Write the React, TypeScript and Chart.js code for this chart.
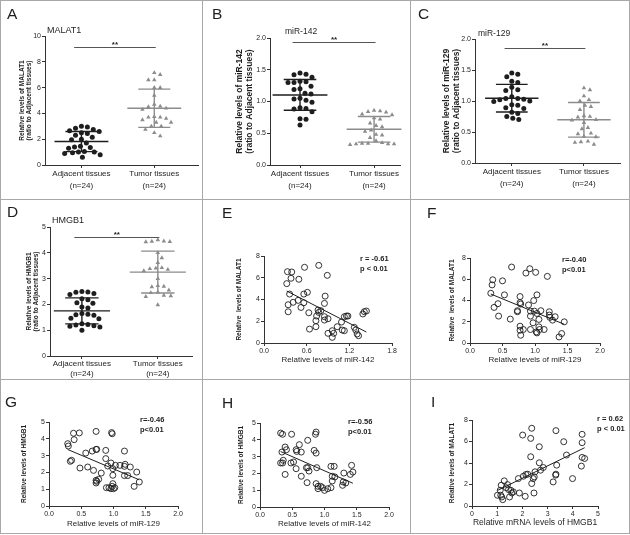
import React, { useEffect, useRef } from 'react';
import { Chart, registerables } from 'chart.js';

Chart.register(...registerables);

const FONT = '"Liberation Sans", Arial, Helvetica, sans-serif';
const INK = '#1e1e1e';
const AXIS = '#333333';
const TRI = '#8c8c8c';
const FRAME = '#a8a8a8';

// ---------------- data ----------------
const groupLabels = ['Adjacent tissues', 'Tumor tissues'];
const groupSizes = ['(n=24)', '(n=24)'];

// A: MALAT1
const malat1Adjacent = [3.0, 2.95, 2.85, 2.75, 2.65, 2.6, 2.5, 2.45, 2.3, 2.15, 2.0, 1.95, 1.7, 1.45, 1.4, 1.35, 1.3, 1.05, 1.0, 1.0, 0.95, 0.9, 0.8, 0.6];
const malat1Tumor = [7.15, 7.0, 6.6, 6.6, 6.0, 6.0, 5.4, 4.7, 4.55, 4.5, 4.4, 4.3, 3.75, 3.7, 3.7, 3.6, 3.5, 3.3, 3.3, 3.0, 3.0, 2.75, 2.5, 2.25];
// B: miR-142
const mir142Adjacent = [1.45, 1.43, 1.42, 1.38, 1.32, 1.31, 1.3, 1.3, 1.24, 1.2, 1.19, 1.13, 1.12, 1.05, 1.04, 1.02, 0.99, 0.9, 0.89, 0.88, 0.84, 0.73, 0.72, 0.63];
const mir142Tumor = [0.86, 0.85, 0.84, 0.83, 0.8, 0.79, 0.74, 0.72, 0.66, 0.62, 0.6, 0.55, 0.53, 0.48, 0.47, 0.43, 0.38, 0.35, 0.34, 0.34, 0.33, 0.33, 0.33, 0.32];
// C: miR-129
const mir129Adjacent = [1.45, 1.43, 1.39, 1.32, 1.3, 1.22, 1.18, 1.17, 1.07, 1.04, 1.04, 1.03, 1.02, 1.0, 0.99, 0.94, 0.93, 0.89, 0.88, 0.82, 0.8, 0.75, 0.72, 0.7];
const mir129Tumor = [1.21, 1.18, 1.08, 1.02, 1.0, 0.93, 0.91, 0.86, 0.76, 0.75, 0.74, 0.7, 0.69, 0.65, 0.57, 0.55, 0.48, 0.47, 0.43, 0.42, 0.35, 0.34, 0.33, 0.3];
// D: HMGB1
const hmgb1Adjacent = [2.5, 2.48, 2.47, 2.42, 2.38, 2.22, 2.18, 2.06, 2.04, 1.9, 1.86, 1.65, 1.62, 1.6, 1.58, 1.46, 1.44, 1.25, 1.22, 1.2, 1.17, 1.15, 1.12, 1.0];
const hmgb1Tumor = [4.5, 4.45, 4.44, 4.43, 4.42, 4.0, 3.8, 3.62, 3.42, 3.4, 3.38, 3.35, 3.3, 3.0, 2.72, 2.7, 2.68, 2.55, 2.47, 2.45, 2.35, 2.33, 2.3, 1.98];

// E: miR-142 vs MALAT1
const eMir142 = [0.33, 0.39, 0.32, 0.38, 0.57, 0.49, 0.77, 0.89, 0.36, 0.61, 0.56, 0.34, 0.41, 0.48, 0.52, 0.56, 0.34, 0.63, 0.76, 0.77, 0.80, 0.86, 0.85, 0.74, 0.73, 0.85, 0.90, 0.85, 0.64, 0.73, 0.90, 0.96, 0.98, 0.96, 1.03, 1.09, 1.10, 1.13, 1.13, 1.16, 1.18, 1.27, 1.29, 1.31, 1.33, 1.39, 1.41, 1.44];
const eMalat1 = [6.56, 6.53, 5.46, 5.95, 6.96, 5.86, 7.14, 6.22, 4.50, 4.66, 4.50, 3.52, 3.74, 3.92, 3.27, 3.70, 2.87, 2.78, 3.03, 2.81, 2.97, 4.31, 3.64, 2.48, 2.05, 2.11, 2.23, 2.42, 1.28, 1.50, 0.89, 1.13, 0.89, 0.52, 1.50, 1.93, 1.19, 1.13, 2.42, 2.48, 2.48, 1.44, 1.19, 0.83, 0.67, 2.67, 2.88, 2.94];
// F: miR-129 vs MALAT1
const fMir129 = [0.32, 0.35, 0.34, 0.37, 0.43, 0.44, 0.50, 0.53, 0.64, 0.62, 0.73, 0.73, 0.77, 0.77, 0.78, 0.77, 0.77, 0.78, 0.82, 0.86, 0.92, 1.01, 0.90, 0.93, 0.93, 0.98, 0.99, 0.97, 0.93, 1.02, 1.03, 1.03, 1.06, 1.03, 1.06, 1.07, 1.09, 1.14, 1.19, 1.22, 1.22, 1.23, 1.27, 1.31, 1.37, 1.41, 1.45];
const fMalat1 = [4.68, 5.95, 5.47, 3.35, 3.70, 2.53, 5.85, 4.53, 7.15, 2.25, 2.94, 3.04, 4.37, 3.80, 3.67, 1.58, 1.20, 0.73, 1.27, 6.58, 6.99, 6.65, 3.58, 3.00, 2.53, 3.99, 3.00, 1.90, 1.27, 1.04, 0.95, 4.53, 2.22, 2.78, 1.52, 1.27, 3.04, 1.27, 6.27, 2.94, 2.63, 2.41, 2.15, 2.47, 0.57, 0.89, 1.99];
// G: miR-129 vs HMGB1
const gMir129 = [0.29, 0.30, 0.33, 0.35, 0.38, 0.39, 0.47, 0.48, 0.57, 0.60, 0.67, 0.69, 0.73, 0.73, 0.74, 0.73, 0.74, 0.73, 0.77, 0.81, 0.88, 0.88, 0.91, 0.89, 0.93, 0.96, 0.97, 0.98, 0.98, 0.99, 0.96, 1.00, 0.99, 0.99, 1.02, 1.03, 1.10, 1.17, 1.17, 1.18, 1.17, 1.22, 1.26, 1.32, 1.36, 1.40];
const gHmgb1 = [3.71, 3.57, 2.66, 2.72, 4.33, 3.95, 4.35, 2.26, 3.15, 2.32, 3.27, 2.12, 4.44, 3.37, 3.37, 1.53, 1.47, 1.37, 1.59, 1.96, 2.82, 3.31, 2.38, 1.09, 1.09, 2.56, 4.37, 4.30, 1.17, 1.33, 1.03, 1.03, 2.22, 1.83, 1.09, 2.42, 2.42, 2.36, 3.27, 2.48, 1.81, 1.81, 2.32, 1.17, 2.02, 1.43];
// H: miR-142 vs HMGB1
const hMir142 = [0.32, 0.35, 0.49, 0.34, 0.35, 0.32, 0.36, 0.39, 0.41, 0.39, 0.48, 0.52, 0.56, 0.57, 0.56, 0.61, 0.64, 0.64, 0.74, 0.72, 0.74, 0.76, 0.73, 0.84, 0.87, 0.87, 0.86, 0.88, 0.87, 0.90, 0.90, 0.94, 0.97, 1.00, 1.05, 1.10, 1.10, 1.15, 1.12, 1.12, 1.16, 1.28, 1.29, 1.30, 1.33, 1.40, 1.42, 1.44];
const hHmgb1 = [4.40, 4.33, 4.33, 3.27, 2.62, 2.62, 2.78, 3.57, 3.41, 1.94, 2.62, 2.68, 3.41, 3.31, 2.28, 3.71, 3.27, 1.83, 3.97, 2.34, 2.34, 2.14, 1.45, 3.37, 3.21, 4.46, 4.33, 2.34, 1.39, 1.23, 1.09, 1.23, 1.15, 0.99, 1.09, 1.15, 2.42, 2.42, 1.83, 1.55, 1.79, 1.29, 1.49, 2.02, 1.43, 1.94, 2.48, 2.08];
// I: HMGB1 vs MALAT1
const iHmgb1 = [1.01, 1.12, 1.14, 1.16, 1.18, 1.22, 1.28, 1.36, 1.41, 1.45, 1.49, 1.54, 1.58, 1.64, 1.84, 1.88, 2.01, 2.04, 2.11, 2.14, 2.21, 2.33, 2.37, 2.33, 2.37, 2.43, 2.46, 2.47, 2.50, 2.67, 2.67, 2.72, 2.83, 3.22, 3.33, 3.33, 3.32, 3.36, 3.64, 3.75, 3.99, 4.37, 4.37, 4.34, 4.37, 4.47];
const iMalat1 = [1.00, 1.46, 1.00, 1.93, 0.84, 0.59, 2.34, 1.71, 1.99, 1.53, 0.84, 1.46, 1.21, 1.31, 2.55, 1.21, 6.60, 2.77, 0.90, 2.93, 2.96, 4.58, 7.23, 6.29, 2.09, 2.55, 1.21, 2.71, 3.18, 5.51, 4.02, 3.33, 3.58, 2.24, 7.01, 2.96, 2.87, 3.80, 5.98, 4.74, 2.55, 6.67, 5.89, 3.71, 4.52, 4.42];

const corrR = ['r = -0.61', 'r=-0.40', 'r=-0.46', 'r=-0.56', 'r = 0.62'];
const corrP = ['p < 0.01', 'p<0.01', 'p<0.01', 'p<0.01', 'p < 0.01'];
const sigLevel = [9.15, 1.94, 1.85, 4.6];
const sigMark = '**';

// ---------------- helpers ----------------
const mean = (a: number[]) => a.reduce((s, v) => s + v, 0) / a.length;
const sd = (a: number[]) => {
  const m = mean(a);
  return Math.sqrt(a.reduce((s, v) => s + (v - m) ** 2, 0) / (a.length - 1));
};
function linFit(xs: number[], ys: number[]) {
  const mx = mean(xs), my = mean(ys);
  let sxy = 0, sxx = 0;
  xs.forEach((x, i) => { sxy += (x - mx) * (ys[i] - my); sxx += (x - mx) ** 2; });
  const b = sxy / sxx;
  return { a: my - b * mx, b };
}
// beeswarm offsets (in x data units) so that markers do not overlap
function swarm(values: number[], pxX: number, pxY: number, d = 6.0): number[] {
  const placed: { x: number; y: number }[] = [];
  return values.map((v) => {
    const y = v * pxY;
    for (let k = 0; k < 80; k++) {
      const cand = k === 0 ? 0 : (k % 2 ? 1 : -1) * Math.ceil(k / 2) * 1.0;
      if (placed.every((p) => Math.hypot(p.x - cand, p.y - y) >= d)) {
        placed.push({ x: cand, y });
        return cand / pxX;
      }
    }
    return 0;
  });
}

type Box = [number, number, number, number]; // left, top, right, bottom (page px)

function valueAxis(min: number, max: number, step: number, dec: number) {
  return {
    type: 'linear' as const,
    min,
    max,
    ticks: {
      stepSize: step,
      callback: (v: any) => Number(v).toFixed(dec),
      font: { family: FONT, size: 7 },
      color: INK,
      padding: 1,
      maxRotation: 0,
      minRotation: 0,
      autoSkip: false,
    },
    grid: { display: true, drawOnChartArea: false, drawTicks: true, tickLength: 3, color: AXIS, lineWidth: 1 },
    border: { display: true, color: AXIS, width: 1 },
  };
}

function baseOptions(cell: Box, area: Box) {
  return {
    responsive: false,
    animation: false as const,
    events: [] as any[],
    layout: { padding: { left: 0, top: area[1] - cell[1], right: cell[2] - area[2], bottom: 0 } },
    plugins: { legend: { display: false }, tooltip: { enabled: false }, title: { display: false } },
  };
}

// ---------------- panel layout ----------------
type DotPanel = {
  cell: Box; area: Box; xr: [number, number]; ymax: number; ystep: number; ydec: number;
  adj: number[]; tum: number[]; yTitle: string[]; yFont: number; yLH: number; yPad: number; sig: number; labLH: number;
};
const dotPanels: DotPanel[] = [
  { cell: [0, 0, 202, 199], area: [45, 36, 200, 165], xr: [-0.5, 1.6], ymax: 10, ystep: 2, ydec: 0, adj: malat1Adjacent, tum: malat1Tumor, yTitle: ['Relative levels of MALAT1', '(ratio to Adjacent tissues)'], yFont: 6.5, yLH: 7, yPad: 18.5, sig: sigLevel[0], labLH: 1.5 },
  { cell: [202, 0, 410, 199], area: [270, 38, 400, 165], xr: [-0.405, 1.35], ymax: 2, ystep: 0.5, ydec: 1, adj: mir142Adjacent, tum: mir142Tumor, yTitle: ['Relative levels of miR-142', '(ratio to Adjacent tissues)'], yFont: 8.5, yLH: 10, yPad: 33, sig: sigLevel[1], labLH: 1.5 },
  { cell: [410, 0, 630, 199], area: [475, 39, 620, 163], xr: [-0.51, 1.5], ymax: 2, ystep: 0.5, ydec: 1, adj: mir129Adjacent, tum: mir129Tumor, yTitle: ['Relative levels of miR-129', '(ratio to Adjacent tissues)'], yFont: 8.5, yLH: 10, yPad: 32, sig: sigLevel[2], labLH: 1.5 },
  { cell: [0, 199, 202, 379], area: [50, 227, 192, 356], xr: [-0.42, 1.45], ymax: 5, ystep: 1, ydec: 0, adj: hmgb1Adjacent, tum: hmgb1Tumor, yTitle: ['Relative levels of HMGB1', '(ratio to Adjacent tissues)'], yFont: 6.5, yLH: 7, yPad: 25.5, sig: sigLevel[3], labLH: 1.25 },
];

type ScatterPanel = {
  cell: Box; area: Box; xmax: number; xstep: number; xdec: number; ymax: number; ystep: number;
  xs: number[]; ys: number[]; xTitle: string; xFont: number; xTitleY: number; yTitle: string; yPad: number;
};
const scatterPanels: ScatterPanel[] = [
  { cell: [202, 199, 410, 379], area: [264, 256, 392, 343], xmax: 1.8, xstep: 0.6, xdec: 1, ymax: 8, ystep: 2, xs: eMir142, ys: eMalat1, xTitle: 'Relative levels of miR-142', xFont: 8, xTitleY: 360, yTitle: 'Relative  levels of MALAT1', yPad: 34 },
  { cell: [410, 199, 630, 379], area: [470, 258, 600, 343], xmax: 2, xstep: 0.5, xdec: 1, ymax: 8, ystep: 2, xs: fMir129, ys: fMalat1, xTitle: 'Relative levels of miR-129', xFont: 8, xTitleY: 360, yTitle: 'Relative  levels of MALAT1', yPad: 39 },
  { cell: [0, 379, 202, 535], area: [49, 422, 178, 506], xmax: 2, xstep: 0.5, xdec: 1, ymax: 5, ystep: 1, xs: gMir129, ys: gHmgb1, xTitle: 'Relative levels of miR-129', xFont: 8, xTitleY: 524, yTitle: 'Relative levels of HMGB1', yPad: 21 },
  { cell: [202, 379, 410, 535], area: [260, 423, 389, 507], xmax: 2, xstep: 0.5, xdec: 1, ymax: 5, ystep: 1, xs: hMir142, ys: hHmgb1, xTitle: 'Relative levels of miR-142', xFont: 8, xTitleY: 524, yTitle: 'Relative levels of HMGB1', yPad: 36 },
  { cell: [410, 379, 630, 535], area: [472, 420, 598, 506], xmax: 5, xstep: 1, xdec: 0, ymax: 8, ystep: 2, xs: iHmgb1, ys: iMalat1, xTitle: 'Relative mRNA levels of HMGB1', xFont: 8.5, xTitleY: 523, yTitle: 'Relative levels of MALAT1', yPad: 39 },
];

function dotConfig(p: DotPanel): any {
  const [cl, , , cb] = p.cell;
  const [al, at, ar, ab] = p.area;
  const pxX = (ar - al) / (p.xr[1] - p.xr[0]);
  const pxY = (ab - at) / p.ymax;
  const offA = swarm(p.adj, pxX, pxY);
  const offT = swarm(p.tum, pxX, pxY);
  const groups = [p.adj, p.tum];
  const colors = [INK, TRI];
  const plugin = {
    id: 'meanSd',
    afterDatasetsDraw(chart: any) {
      const { ctx, scales: { x, y } } = chart;
      ctx.save();
      groups.forEach((vals, i) => {
        const m = mean(vals), s = sd(vals);
        ctx.strokeStyle = colors[i];
        ctx.lineWidth = 1.4;
        ctx.beginPath();
        ctx.moveTo(x.getPixelForValue(i - 0.37), y.getPixelForValue(m));
        ctx.lineTo(x.getPixelForValue(i + 0.37), y.getPixelForValue(m));
        for (const v of [m + s, m - s]) {
          ctx.moveTo(x.getPixelForValue(i - 0.22), y.getPixelForValue(v));
          ctx.lineTo(x.getPixelForValue(i + 0.22), y.getPixelForValue(v));
        }
        ctx.moveTo(x.getPixelForValue(i), y.getPixelForValue(m + s));
        ctx.lineTo(x.getPixelForValue(i), y.getPixelForValue(m - s));
        ctx.stroke();
      });
      const yy = Math.round(y.getPixelForValue(p.sig)) + 0.5;
      ctx.strokeStyle = '#555';
      ctx.lineWidth = 1.2;
      ctx.beginPath();
      ctx.moveTo(x.getPixelForValue(-0.1), yy);
      ctx.lineTo(x.getPixelForValue(1.02), yy);
      ctx.stroke();
      ctx.fillStyle = INK;
      ctx.font = `bold 8px ${FONT}`;
      ctx.textAlign = 'center';
      ctx.textBaseline = 'alphabetic';
      ctx.fillText(sigMark, x.getPixelForValue(0.46), yy - 1);
      ctx.restore();
    },
  };
  const xAxis: any = {
    ...valueAxis(p.xr[0], p.xr[1], 1, 0),
    afterBuildTicks: (ax: any) => { ax.ticks = [{ value: 0 }, { value: 1 }]; },
    afterFit: (ax: any) => { ax.height = cb - ab; },
  };
  xAxis.ticks = { ...xAxis.ticks, font: { family: FONT, size: 8, lineHeight: p.labLH }, padding: 0, callback: (v: any) => [groupLabels[v], groupSizes[v]] };
  const yAxis: any = {
    ...valueAxis(0, p.ymax, p.ystep, p.ydec),
    afterFit: (ax: any) => { ax.width = al - cl; },
    title: { display: true, text: p.yTitle, color: INK, font: { family: FONT, size: p.yFont, weight: 'bold', lineHeight: p.yLH / p.yFont }, padding: { top: p.yPad, bottom: 0 } },
  };
  return {
    type: 'scatter',
    data: {
      datasets: [
        { data: p.adj.map((v, i) => ({ x: 0 + offA[i], y: v })), pointStyle: 'circle', pointRadius: 2.5, pointBackgroundColor: INK, pointBorderColor: INK, pointBorderWidth: 0 },
        { data: p.tum.map((v, i) => ({ x: 1 + offT[i], y: v })), pointStyle: 'triangle', pointRadius: 2.6, pointBackgroundColor: TRI, pointBorderColor: TRI, pointBorderWidth: 0 },
      ],
    },
    options: { ...baseOptions(p.cell, p.area), scales: { x: xAxis, y: yAxis } },
    plugins: [plugin],
  };
}

function scatterConfig(p: ScatterPanel): any {
  const [cl, , , cb] = p.cell;
  const [al, , , ab] = p.area;
  const fit = linFit(p.xs, p.ys);
  const x0 = Math.min(...p.xs), x1 = Math.max(...p.xs);
  const lh = p.xFont * 1.2;
  const xAxis: any = {
    ...valueAxis(0, p.xmax, p.xstep, p.xdec),
    afterFit: (ax: any) => { ax.height = cb - ab; },
    title: { display: true, text: p.xTitle, color: INK, font: { family: FONT, size: p.xFont, lineHeight: 1.2 }, padding: { top: 0, bottom: cb - p.xTitleY - lh / 2 } },
  };
  const yAxis: any = {
    ...valueAxis(0, p.ymax, p.ystep, 0),
    afterFit: (ax: any) => { ax.width = al - cl; },
    title: { display: true, text: p.yTitle, color: INK, font: { family: FONT, size: 6.5, weight: 'bold', lineHeight: 1.1 }, padding: { top: p.yPad, bottom: 0 } },
  };
  return {
    type: 'scatter',
    data: {
      datasets: [
        { data: [{ x: x0, y: fit.a + fit.b * x0 }, { x: x1, y: fit.a + fit.b * x1 }], showLine: true, pointRadius: 0, borderColor: INK, borderWidth: 1 },
        { data: p.xs.map((x, i) => ({ x, y: p.ys[i] })), pointStyle: 'circle', pointRadius: 3, pointBackgroundColor: 'rgba(255,255,255,0)', pointBorderColor: INK, pointBorderWidth: 0.9 },
      ],
    },
    options: { ...baseOptions(p.cell, p.area), scales: { x: xAxis, y: yAxis } },
  };
}

// ---------------- text overlays ----------------
const panelLetters: [string, number, number][] = [
  ['A', 7, 14], ['B', 212, 14], ['C', 418, 14], ['D', 7, 212], ['E', 222, 213], ['F', 427, 213], ['G', 5, 402], ['H', 222, 403], ['I', 431, 402],
];
const panelTitles: [string, number, number, number][] = [
  ['MALAT1', 47, 30, 9], ['miR-142', 285, 31, 8.5], ['miR-129', 478, 33, 8.5], ['HMGB1', 52, 220, 9],
];
const statPos: [number, number][] = [[360, 259], [562, 260], [140, 420], [348, 422], [597, 419]];

const Txt = ({ x, y, s, size, bold }: { x: number; y: number; s: string; size: number; bold?: boolean }) => (
  <div
    style={{
      position: 'absolute', left: x, top: y, transform: 'translateY(-50%)', whiteSpace: 'nowrap',
      font: `${bold ? 'bold ' : ''}${size}px ${FONT}`, lineHeight: 1, color: INK,
    }}
  >
    {s}
  </div>
);

export default function App() {
  const refs = useRef<(HTMLCanvasElement | null)[]>([]);
  const allCells: Box[] = [...dotPanels.map((p) => p.cell), ...scatterPanels.map((p) => p.cell)];

  useEffect(() => {
    const configs = [...dotPanels.map(dotConfig), ...scatterPanels.map(scatterConfig)];
    const charts = configs.map((cfg, i) => new Chart(refs.current[i] as HTMLCanvasElement, cfg));
    return () => charts.forEach((c) => c.destroy());
  }, []);

  return (
    <div style={{ position: 'absolute', left: 0, top: 0, width: 630, height: 535, background: '#fff', overflow: 'hidden' }}>
      {/* frame and dividers */}
      <div style={{ position: 'absolute', left: 0, top: 0, width: 628, height: 532, border: `1px solid ${FRAME}` }} />
      <div style={{ position: 'absolute', left: 0, top: 199, width: 630, height: 1, background: FRAME }} />
      <div style={{ position: 'absolute', left: 0, top: 379, width: 630, height: 1, background: FRAME }} />
      <div style={{ position: 'absolute', left: 202, top: 0, width: 1, height: 534, background: FRAME }} />
      <div style={{ position: 'absolute', left: 410, top: 0, width: 1, height: 534, background: FRAME }} />

      {allCells.map((c, i) => (
        <canvas
          key={i}
          ref={(el) => { refs.current[i] = el; }}
          width={c[2] - c[0]}
          height={c[3] - c[1]}
          style={{ position: 'absolute', left: c[0], top: c[1], width: c[2] - c[0], height: c[3] - c[1] }}
        />
      ))}

      {panelLetters.map(([s, x, y]) => <Txt key={s} x={x} y={y} s={s} size={15.5} />)}
      {panelTitles.map(([s, x, y, size]) => <Txt key={s} x={x} y={y} s={s} size={size} />)}
      {statPos.map(([x, y], i) => (
        <React.Fragment key={i}>
          <Txt x={x} y={y} s={corrR[i]} size={7.5} bold />
          <Txt x={x} y={y + 10} s={corrP[i]} size={7.5} bold />
        </React.Fragment>
      ))}
    </div>
  );
}
